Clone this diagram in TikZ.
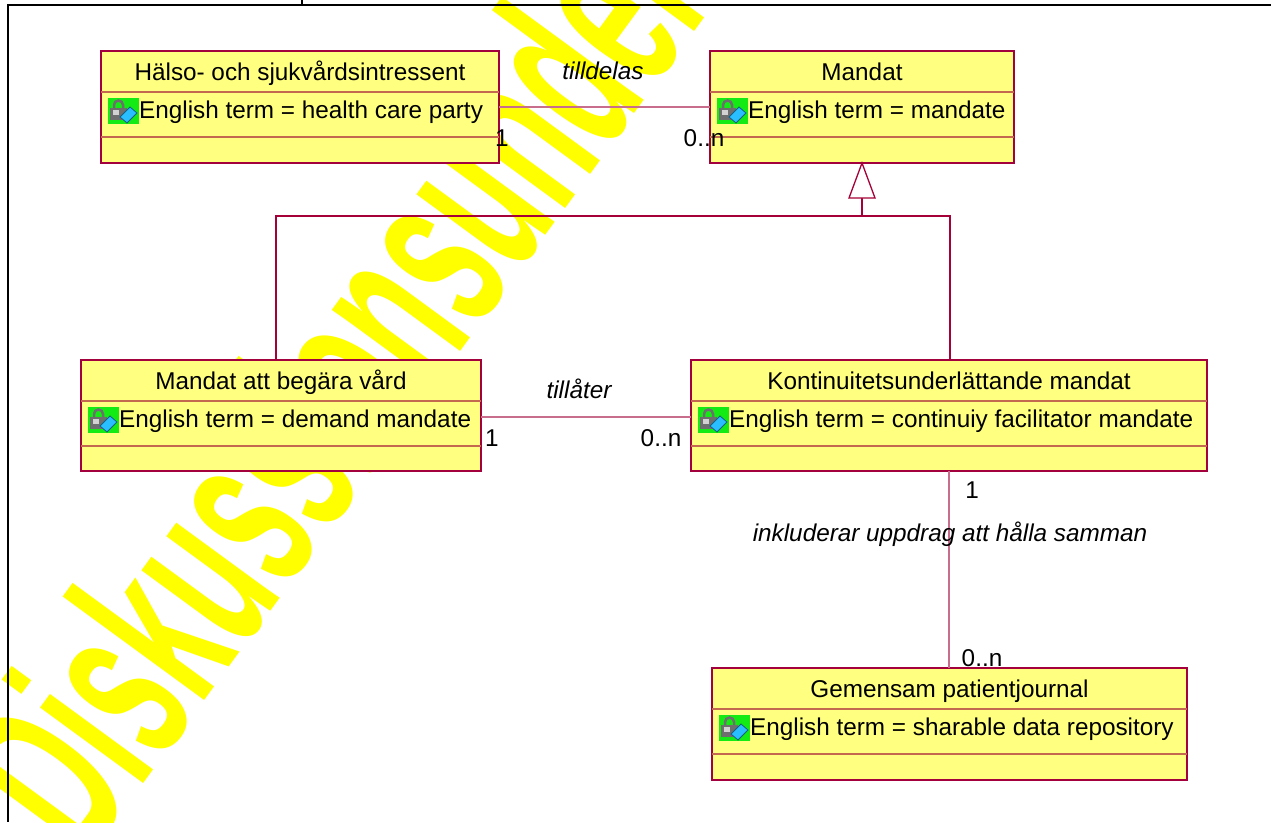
\documentclass[tikz,border=0pt]{standalone}
\usepackage{fontspec}
\usepackage{graphicx}
\setmainfont{Liberation Sans}
\newfontfamily\wmfont{Liberation Sans}
\usetikzlibrary{calc}
\definecolor{boxfill}{RGB}{255,255,128}
\definecolor{boxborder}{RGB}{163,0,62}
\definecolor{sepcol}{RGB}{195,105,80}
\definecolor{assoccol}{RGB}{200,110,140}
\definecolor{gencol}{RGB}{165,0,55}
\definecolor{wmyellow}{RGB}{255,255,0}
\definecolor{icongreen}{RGB}{20,235,20}
\definecolor{lockgray}{RGB}{110,110,110}
\definecolor{pencilblue}{RGB}{40,190,255}
\newcommand\umlfont{\fontsize{24.3}{28}\selectfont}
\newcommand\umlicon[2]{%
  \begin{scope}[shift={({#1},{-(#2)})}]
    \fill[icongreen] (0,0) rectangle (31,-26);
    \draw[lockgray, line width=2.5] (6,-10) -- (6,-7) arc[start angle=180,end angle=0,radius=4.5] -- (15,-10);
    \fill[lockgray] (2,-10) rectangle (19,-22);
    \fill[gray!35] (5,-12) rectangle (11,-17);
    \filldraw[fill=pencilblue, draw=pencilblue!50!black, line width=0.8] (12,-19) -- (22,-9) -- (29,-15) -- (19,-25) -- cycle;
  \end{scope}}
% #1 name, #2 x1, #3 y1, #4 x2, #5 y2 (screen px), #6 title, #7 attribute
\newcommand\umlbox[7]{%
  \node[classbox, minimum width={(#4)-(#2)}, minimum height={(#5)-(#3)}] (#1) at ({#2},{-(#3)}) {};
  \draw[sepline] ($(#1.north west)+(0,-41)$) -- ($(#1.north east)+(0,-41)$);
  \draw[sepline] ($(#1.north west)+(0,-86)$) -- ($(#1.north east)+(0,-86)$);
  \node[titletxt] (#1-title) at ($(#1.north)+(0,-29.5)$) {#6};
  \umlicon{(#2)+7}{(#3)+47}
  \node[attrtxt] (#1-attr) at ($(#1.north west)+(38,-67)$) {#7};
}
\begin{document}
\begin{tikzpicture}[x=1pt,y=1pt,
  classbox/.style={draw=boxborder, fill=boxfill, line width=1.5, inner sep=0, outer sep=0, anchor=north west},
  sepline/.style={draw=sepcol, line width=1.3},
  titletxt/.style={font=\umlfont, anchor=base, inner sep=0},
  attrtxt/.style={font=\umlfont, anchor=base west, inner sep=0},
  lbl/.style={font=\umlfont, anchor=base, inner sep=0},
  ilbl/.style={font=\umlfont\itshape, anchor=base, inner sep=0},
  assoc/.style={draw=assoccol, line width=1.3},
  genline/.style={draw=gencol, line width=1.3},
  frameline/.style={draw=black, line width=2.2}]
\useasboundingbox (0,0) rectangle (1271,-822);
\fill[white] (0,0) rectangle (1271,-822);
% watermark
\begin{scope}
  \clip (0,0) rectangle (1271,-822);
  \node[inner sep=0, outer sep=0, anchor=base west, rotate=53.8, text=wmyellow,
        font=\wmfont\bfseries\fontsize{242}{242}\selectfont] (wm) at (86.3,-862.8)
        {\scalebox{0.51}[1]{Diskussionsunderlag}};
\end{scope}
% frame
\coordinate (fr1) at (1271,-5);
\coordinate (fr2) at (8,-5);
\coordinate (fr3) at (8,-822);
\coordinate (fr4) at (302,0);
\coordinate (fr5) at (302,-5);
\draw[frameline] (fr1) -- (fr2) -- (fr3);
\draw[frameline] (fr4) -- (fr5);
% class boxes
\umlbox{hals}{101}{51}{499}{163}{Hälso- och sjukvårdsintressent}{English term = health care party}
\umlbox{man}{710}{51}{1014}{163}{Mandat}{English term = mandate}
\umlbox{mbv}{81}{360}{481}{471}{Mandat att begära vård}{English term = demand mandate}
\umlbox{kon}{691}{360}{1207}{471}{Kontinuitetsunderlättande mandat}{English term = continuiy facilitator mandate}
\umlbox{gem}{712}{668}{1187}{780}{Gemensam patientjournal}{English term = sharable data repository}
% associations
\coordinate (a1y) at (0,-107);
\coordinate (a2y) at (0,-417);
\draw[assoc] (hals.east |- a1y) -- (man.west |- a1y);
\draw[assoc] (mbv.east |- a2y) -- (kon.west |- a2y);
\coordinate (konb) at (949,-471);
\coordinate (gemt) at (949,-668);
\draw[assoc] (konb) -- (gemt);
% generalization
\coordinate (tribase) at ($(man.south)+(0,-35)$);
\coordinate (gj) at ($(man.south)+(0,-53)$);
\coordinate (mbvtop) at (276,-360);
\coordinate (kontop) at (950,-360);
\draw[genline] (tribase) -- (gj);
\draw[genline] (kontop) |- (gj) -| (mbvtop);
\filldraw[genline, fill=white] (man.south) -- ($(tribase)+(-13,0)$) -- ($(tribase)+(13,0)$) -- cycle;
% labels
\node[ilbl] (l-tilldelas) at (603,-79.5) {tilldelas};
\node[lbl] (l-m1) at (502,-146.5) {1};
\node[lbl] (l-m2) at (704,-146.5) {0..n};
\node[ilbl] (l-tillater) at (579,-398.5) {tillåter};
\node[lbl] (l-t1) at (492,-446.5) {1};
\node[lbl] (l-t2) at (661,-446) {0..n};
\node[lbl] (l-k1) at (972,-498.5) {1};
\node[ilbl] (l-ink) at (950,-541) {inkluderar uppdrag att hålla samman};
\node[lbl] (l-k2) at (982,-666.5) {0..n};
\end{tikzpicture}
\end{document}
